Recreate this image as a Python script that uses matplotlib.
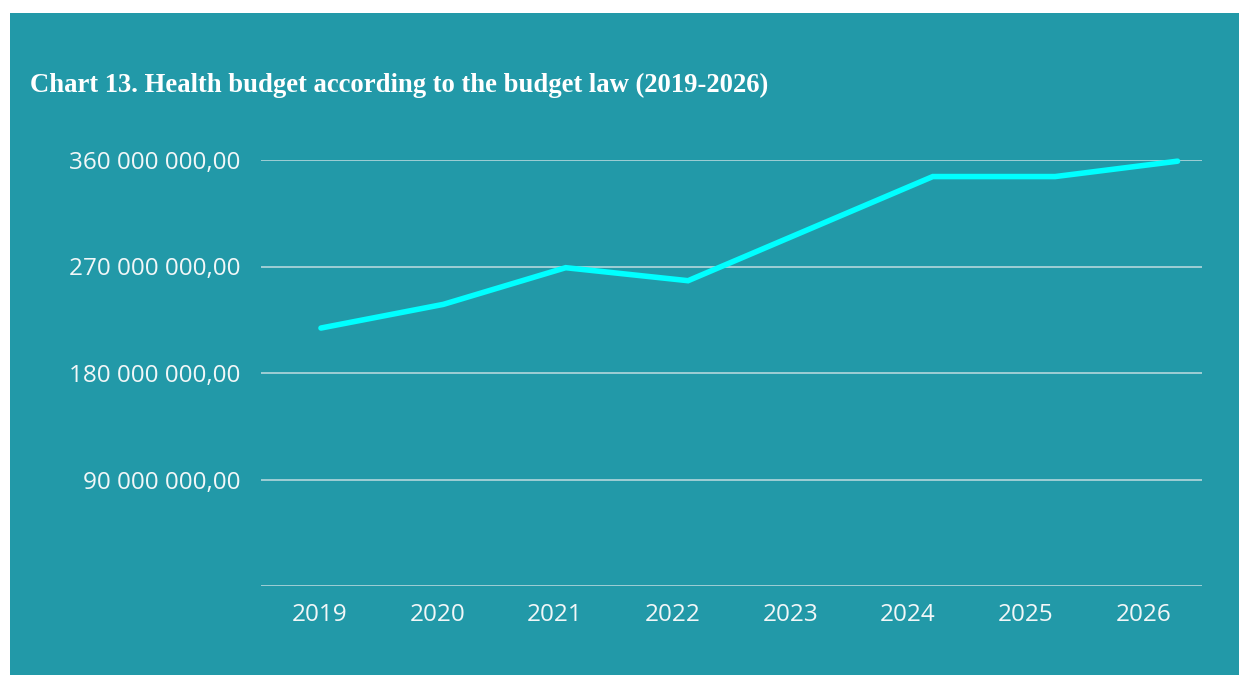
import matplotlib
matplotlib.use("Agg")
import matplotlib.pyplot as plt
from matplotlib.patches import Rectangle
from matplotlib.ticker import FuncFormatter

years = ["2019", "2020", "2021", "2022", "2023", "2024", "2025", "2026"]
budget = [218e6, 238e6, 269e6, 258e6, 302e6, 346e6, 346e6, 359e6]
y_ticks = [90e6, 180e6, 270e6, 360e6]

BG = "#2299a8"
LINE = "#00ffff"
GRID = "#a9d2d8"
TEXT = "#f2f7f8"

W, H, DPI = 1239, 675, 100
fig = plt.figure(figsize=(W / DPI, H / DPI), dpi=DPI, facecolor="white")

# teal panel behind the chart
fig.patches.append(Rectangle((10 / W, 0), 1 - 10 / W, 1 - 13 / H,
                             transform=fig.transFigure, facecolor=BG,
                             edgecolor="none", zorder=-10))

fig.text(30 / W, 1 - 92 / H,
         "Chart 13. Health budget according to the budget law (2019-2026)",
         family="Liberation Serif", weight="bold", fontsize=19.2,
         color="white", ha="left", va="baseline")

left, right = 261 / W, 1202 / W
bottom, top = 1 - 586 / H, 1 - 160 / H
ax = fig.add_axes([left, bottom, right - left, top - bottom])
ax.set_facecolor("none")

idx = list(range(len(years)))
ax.set_xlim(-0.5, len(years) - 0.5)
ax.set_ylim(0, 360e6)
ax.set_xticks(idx)
ax.set_xticklabels(years)
ax.set_yticks(y_ticks)


def fmt(v, _):
    s = f"{v:,.2f}"
    return s.replace(",", " ").replace(".", ",")


ax.yaxis.set_major_formatter(FuncFormatter(fmt))
ax.grid(axis="y", color=GRID, linewidth=1.3)
ax.axhline(0, color=GRID, linewidth=1.3)
for s in ax.spines.values():
    s.set_visible(False)
ax.tick_params(length=0, colors=TEXT, labelsize=17.5)
ax.tick_params(axis="y", pad=15)
ax.tick_params(axis="x", pad=12.5)
for lab in ax.get_xticklabels() + ax.get_yticklabels():
    lab.set_family("Open Sans")

# the series is plotted on its own horizontal scale
ax2 = ax.twiny()
ax2.set_xlim(-0.49, 7.2)
ax2.set_ylim(0, 360e6)
ax2.axis("off")
ax2.plot(idx, budget, color=LINE, linewidth=4, solid_capstyle="round",
         solid_joinstyle="miter", clip_on=False)

fig.savefig("out.png", dpi=DPI, facecolor="white")
